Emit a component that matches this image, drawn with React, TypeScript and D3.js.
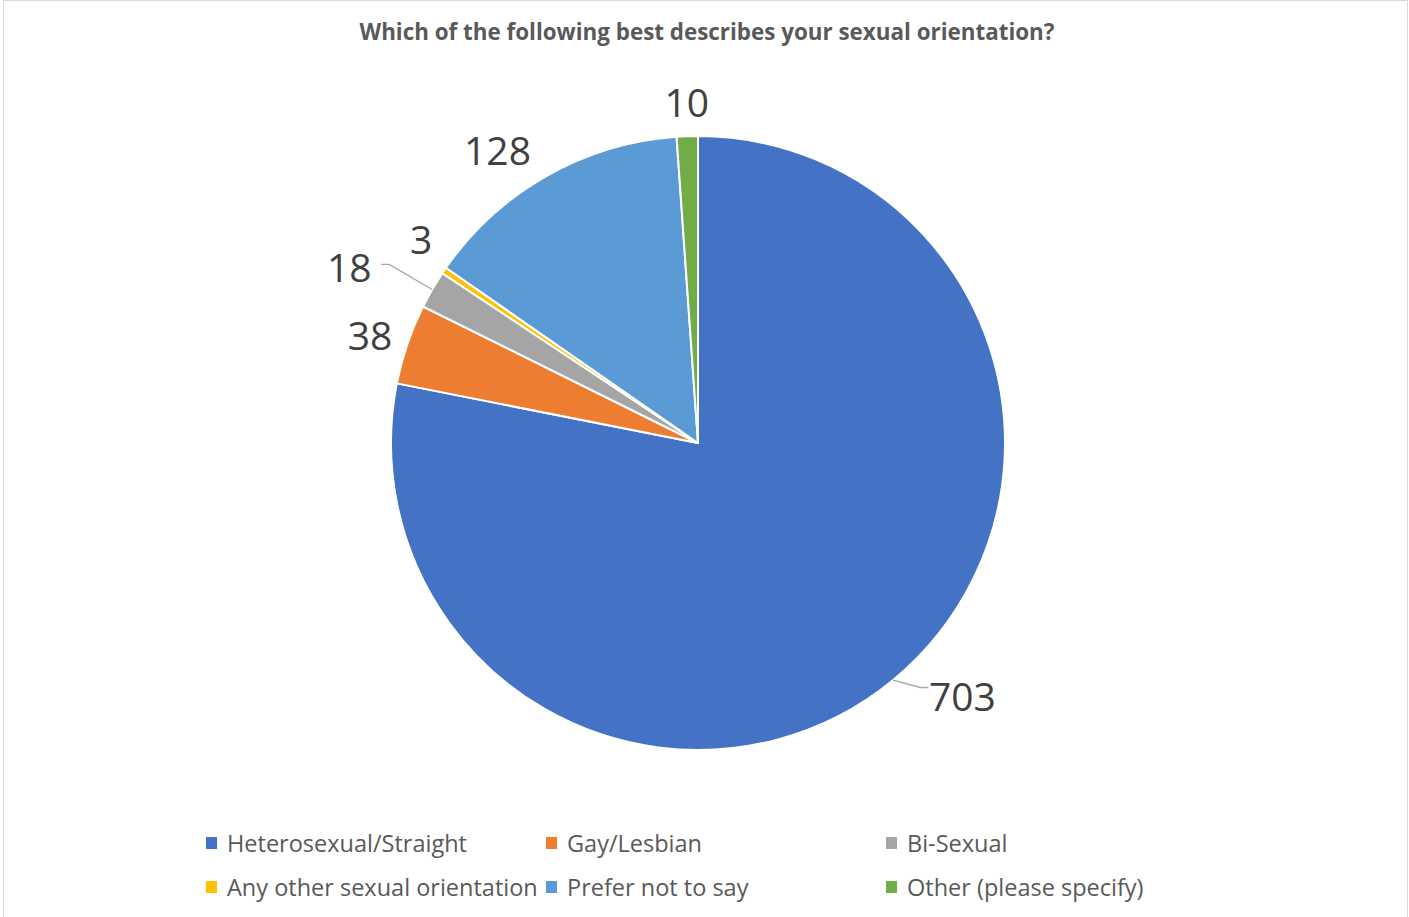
import React from "react";
import * as d3 from "d3";

const categories = [
  "Heterosexual/Straight",
  "Gay/Lesbian",
  "Bi-Sexual",
  "Any other sexual orientation",
  "Prefer not to say",
  "Other (please specify)",
];
const values = [703, 38, 18, 3, 128, 10];
const colors = ["#4472C4", "#ED7D31", "#A5A5A5", "#FFC000", "#5B9BD5", "#70AD47"];
const title = "Which of the following best describes your sexual orientation?";

// label placement: angle shift (deg) and radius; leader flag
const labelPlacement = [
  { dAngle: -6.7, r: 367, leader: true, side: "right" },
  { dAngle: -0.7, r: 345, leader: false, side: "" },
  { dAngle: -3.4, r: 390, leader: true, side: "left" },
  { dAngle: 2.0, r: 343, leader: false, side: "" },
  { dAngle: -4.9, r: 354, leader: false, side: "" },
  { dAngle: 0.1, r: 340, leader: false, side: "" },
];

const W = 1409;
const H = 917;
const cx = 698;
const cy = 443;
const R = 307;

export default function App() {
  const pie = d3.pie<number>().sort(null).value((d) => d).startAngle(0).endAngle(2 * Math.PI);
  const arcs = pie(values);
  const arcGen = d3.arc<d3.PieArcDatum<number>>().innerRadius(0).outerRadius(R);
  const polar = (a: number, r: number) => [cx + r * Math.sin(a), cy - r * Math.cos(a)];

  const legendCols = [206, 546, 886];
  const legendRows = [843, 887];

  return (
    <svg width={W} height={H} style={{ position: "absolute", left: 0, top: 0, background: "#fff" }}>
      <rect x={3.5} y={0.5} width={1404} height={H + 10} fill="#fff" stroke="#d9d9d9" strokeWidth={1} />
      <text x={707} y={40} textAnchor="middle" fontFamily="'Open Sans', sans-serif" fontWeight={700} fontSize={22.5} fill="#595959" textLength={695} lengthAdjust="spacingAndGlyphs">
        {title}
      </text>
      <g>
        {arcs.map((a, i) => (
          <path key={i} d={arcGen(a) || ""} transform={`translate(${cx},${cy})`} fill={colors[i]} stroke="#fff" strokeWidth={2} strokeLinejoin="round" />
        ))}
      </g>
      <g fontFamily="'Open Sans', sans-serif" fontSize={39} fill="#404040">
        {arcs.map((a, i) => {
          const p = labelPlacement[i];
          const mid = (a.startAngle + a.endAngle) / 2;
          const la = mid + (p.dAngle * Math.PI) / 180;
          const [lx, ly] = polar(la, p.r);
          const [ex, ey] = polar(mid, R);
          let leader = null;
          if (p.leader) {
            if (p.side === "left") {
              const tx = lx + 32;
              leader = <polyline points={`${ex},${ey} ${tx + 8},${ly - 4} ${tx},${ly - 4}`} fill="none" stroke="#a6a6a6" strokeWidth={1.3} />;
            } else {
              const tx = lx - 34;
              leader = <polyline points={`${ex},${ey} ${tx - 8},${ly - 10} ${tx},${ly - 10}`} fill="none" stroke="#a6a6a6" strokeWidth={1.3} />;
            }
          }
          return (
            <g key={i}>
              {leader}
              <text x={lx} y={ly - 1.5} textAnchor="middle" dominantBaseline="central">
                {values[i]}
              </text>
            </g>
          );
        })}
      </g>
      <g fontFamily="'Open Sans', sans-serif" fontSize={23.5} fill="#595959">
        {categories.map((c, i) => {
          const col = i % 3;
          const row = Math.floor(i / 3);
          const x = legendCols[col];
          const y = legendRows[row];
          return (
            <g key={c}>
              <rect x={x} y={y - 6} width={11} height={12} fill={colors[i]} />
              <text x={x + 21} y={y} dominantBaseline="central">
                {c}
              </text>
            </g>
          );
        })}
      </g>
    </svg>
  );
}
